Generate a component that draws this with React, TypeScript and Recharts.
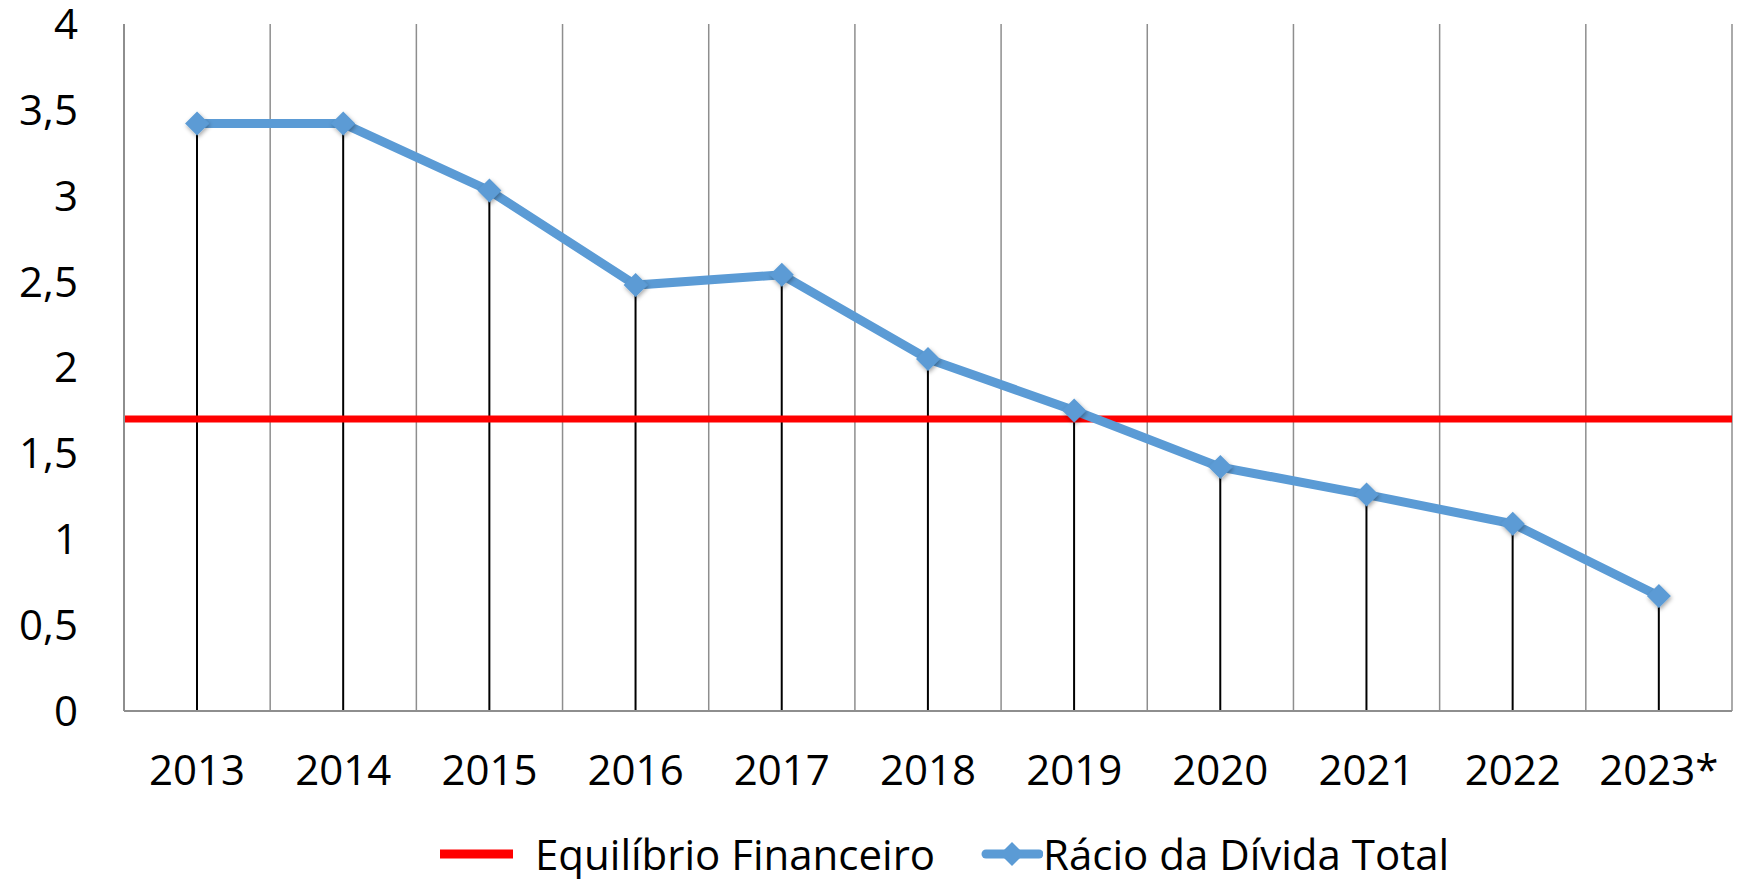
import { ComposedChart, Line, Bar, XAxis, YAxis, CartesianGrid, ReferenceLine, Legend } from 'recharts';

const YEARS = ['2013', '2014', '2015', '2016', '2017', '2018', '2019', '2020', '2021', '2022', '2023*'];
const RACIO = [3.42, 3.42, 3.03, 2.48, 2.54, 2.05, 1.75, 1.42, 1.26, 1.09, 0.67];
const EQUILIBRIO = 1.7;
const Y_TICKS = [0, 0.5, 1, 1.5, 2, 2.5, 3, 3.5, 4];

const BLUE = '#5B9BD5';
const RED = '#FF0000';
const GRID = '#8E8E8E';
const FONT = '"Open Sans", sans-serif';

const data = YEARS.map((year, i) => ({ year, racio: RACIO[i] }));

function Diamond(props: any) {
    const { cx, cy, index } = props;
    if (cx == null || cy == null) return null;
    const r = 12;
    return (
        <polygon
            key={index}
            points={`${cx},${cy - r} ${cx + r},${cy} ${cx},${cy + r} ${cx - r},${cy}`}
            fill={BLUE}
            filter="url(#markerShadow)"
        />
    );
}

function LegendBox() {
    return (
        <div style={{ display: 'flex', alignItems: 'center', height: 70, paddingLeft: 440, fontFamily: FONT, fontSize: 42, lineHeight: '60px', color: '#000' }}>
            <svg width={73} height={20}>
                <line x1={0} y1={10} x2={73} y2={10} stroke={RED} strokeWidth={9} />
            </svg>
            <span style={{ marginLeft: 22 }}>Equilíbrio Financeiro</span>
            <svg width={62} height={28} style={{ marginLeft: 46 }}>
                <line x1={5} y1={14} x2={58} y2={14} stroke={BLUE} strokeWidth={9} strokeLinecap="round" />
                <polygon points="31,2 43,14 31,26 19,14" fill={BLUE} />
            </svg>
            <span>Rácio da Dívida Total</span>
        </div>
    );
}

export default function App() {
    return (
        <div style={{ position: 'absolute', left: 0, top: 0 }}>
            <ComposedChart width={1749} height={879} data={data} margin={{ top: 24, right: 17, left: 0, bottom: 0 }}>
                <defs>
                    <filter id="markerShadow" x="-50%" y="-50%" width="200%" height="200%">
                        <feDropShadow dx="1" dy="2" stdDeviation="2" floodColor="#000" floodOpacity="0.35" />
                    </filter>
                </defs>
                <CartesianGrid
                    horizontal={false}
                    stroke={GRID}
                    strokeWidth={1.5}
                    verticalCoordinatesGenerator={({ offset }: any) =>
                        YEARS.map((_, i) => offset.left + (i + 1) * offset.width / YEARS.length)
                    }
                />
                <XAxis
                    dataKey="year"
                    height={98}
                    tickSize={0}
                    tickMargin={44}
                    axisLine={{ stroke: GRID, strokeWidth: 2 }}
                    tick={{ fill: '#000', fontSize: 42, fontFamily: FONT }}
                    interval={0}
                />
                <YAxis
                    domain={[0, 4]}
                    ticks={Y_TICKS}
                    width={124}
                    tickSize={0}
                    tickMargin={46}
                    axisLine={{ stroke: GRID, strokeWidth: 2 }}
                    tick={{ fill: '#000', fontSize: 42, fontFamily: FONT }}
                    tickFormatter={(v: number) => String(v).replace('.', ',')}
                />
                <Bar dataKey="racio" barSize={2} fill="#000" isAnimationActive={false} />
                <ReferenceLine y={EQUILIBRIO} stroke={RED} strokeWidth={7} />
                <Line
                    dataKey="racio"
                    stroke={BLUE}
                    strokeWidth={9}
                    dot={Diamond}
                    activeDot={false}
                    isAnimationActive={false}
                />
                <Legend
                    content={() => <LegendBox />}
                    wrapperStyle={{ left: 0, width: 1749, top: 819, height: 70 }}
                />
            </ComposedChart>
        </div>
    );
}
